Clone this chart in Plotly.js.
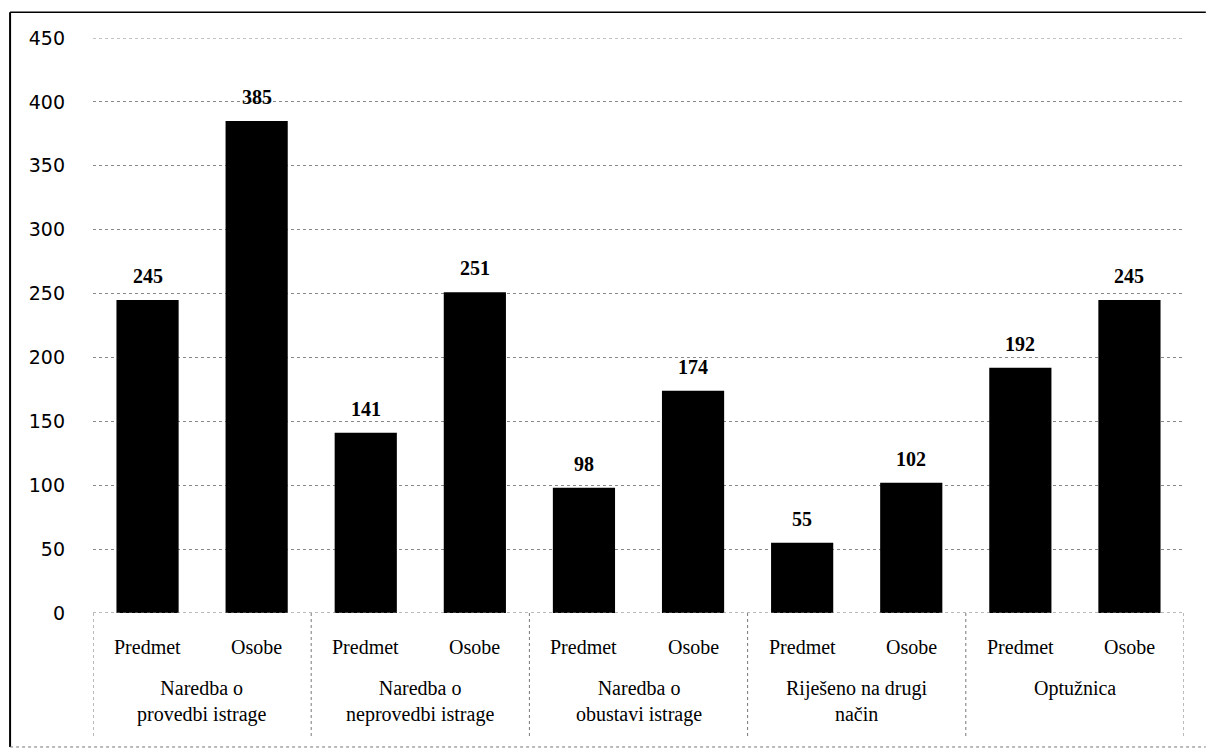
<!DOCTYPE html>
<html>
<head>
<meta charset="utf-8">
<script src="https://cdn.plot.ly/plotly-3.0.1.min.js"></script>
<style>html,body{margin:0;padding:0;background:#fff;}#chart{width:1206px;height:754px;}</style>
</head>
<body>
<div id="chart"></div>
<script>
const groups = ["Naredba o<br>provedbi istrage", "Naredba o<br>neprovedbi istrage", "Naredba o<br>obustavi istrage", "Riješeno na drugi<br>način", "Optužnica"];
const subLabels = ["Predmet", "Osobe"];
const predmet = [245, 141, 98, 55, 192];
const osobe = [385, 251, 174, 102, 245];
const yTicks = [0, 50, 100, 150, 200, 250, 300, 350, 400, 450];

const xs = [], ys = [];
groups.forEach((g, i) => {
  [predmet[i], osobe[i]].forEach((v, j) => {
    xs.push(i * 2 + j); ys.push(v);
  });
});

const serif = "Liberation Serif, serif";
const annotations = [];
xs.forEach((x, k) => {
  annotations.push({x: x, xref: 'x', y: ys[k], yref: 'y', text: '<b>' + ys[k] + '</b>', showarrow: false,
    yanchor: 'bottom', xanchor: 'center', yshift: 11, font: {family: serif, size: 20, color: '#000'}});
  annotations.push({x: x, xref: 'x', y: -0.059, yref: 'paper', text: subLabels[k % 2], showarrow: false,
    yanchor: 'middle', xanchor: 'center', font: {family: serif, size: 20, color: '#000'}});
});
groups.forEach((g, i) => {
  annotations.push({x: i * 2 + 0.5, xref: 'x', y: -0.108, yref: 'paper', text: g, showarrow: false,
    yanchor: 'top', xanchor: 'center', align: 'center', font: {family: serif, size: 20, color: '#000'}});
});

const shapes = [];
const dot = {color: '#777', width: 1, dash: 'dot'};
for (let i = 0; i <= groups.length; i++) {
  shapes.push({type: 'line', xref: 'x', yref: 'paper', x0: i * 2 - 0.5, x1: i * 2 - 0.5, y0: 0, y1: -0.215, line: dot});
}
shapes.push({type: 'line', xref: 'paper', yref: 'y', x0: 0, x1: 1, y0: 0, y1: 0, line: dot});
shapes.push({type: 'line', xref: 'paper', yref: 'y', x0: 0, x1: 1, y0: 450, y1: 450, line: {color: '#888', width: 1, dash: 'dot'}});
// outer chart border
shapes.push({type: 'line', xref: 'paper', yref: 'paper', x0: -0.076, x1: 1.02, y0: 1.045, y1: 1.045, line: {color: '#000', width: 1.5}});
shapes.push({type: 'line', xref: 'paper', yref: 'paper', x0: -0.076, x1: -0.076, y0: 1.045, y1: -0.233, line: {color: '#000', width: 2}});
shapes.push({type: 'line', xref: 'paper', yref: 'paper', x0: -0.076, x1: 1.02, y0: -0.233, y1: -0.233, line: {color: '#777', width: 1, dash: 'dot'}});

const trace = {
  type: 'bar', x: xs, y: ys, cliponaxis: false,
  marker: {color: '#000'}, width: 0.57,
  hoverinfo: 'none'
};

const layout = {
  width: 1206, height: 754,
  margin: {l: 93, r: 22, t: 38, b: 141},
  paper_bgcolor: '#fff', plot_bgcolor: '#fff',
  showlegend: false,
  xaxis: {range: [-0.5, 9.5], showticklabels: false, showgrid: false, zeroline: false, showline: false, ticks: ''},
  yaxis: {range: [0, 450], tickvals: yTicks, showgrid: true, gridcolor: '#888', griddash: 'dot', gridwidth: 1,
    zeroline: false, showline: false, ticks: '', ticklabelstandoff: 27,
    tickfont: {family: 'DejaVu Sans, sans-serif', size: 19, color: '#000'}},
  annotations: annotations,
  shapes: shapes
};

Plotly.newPlot('chart', [trace], layout, {displayModeBar: false, staticPlot: true});
</script>
</body>
</html>
